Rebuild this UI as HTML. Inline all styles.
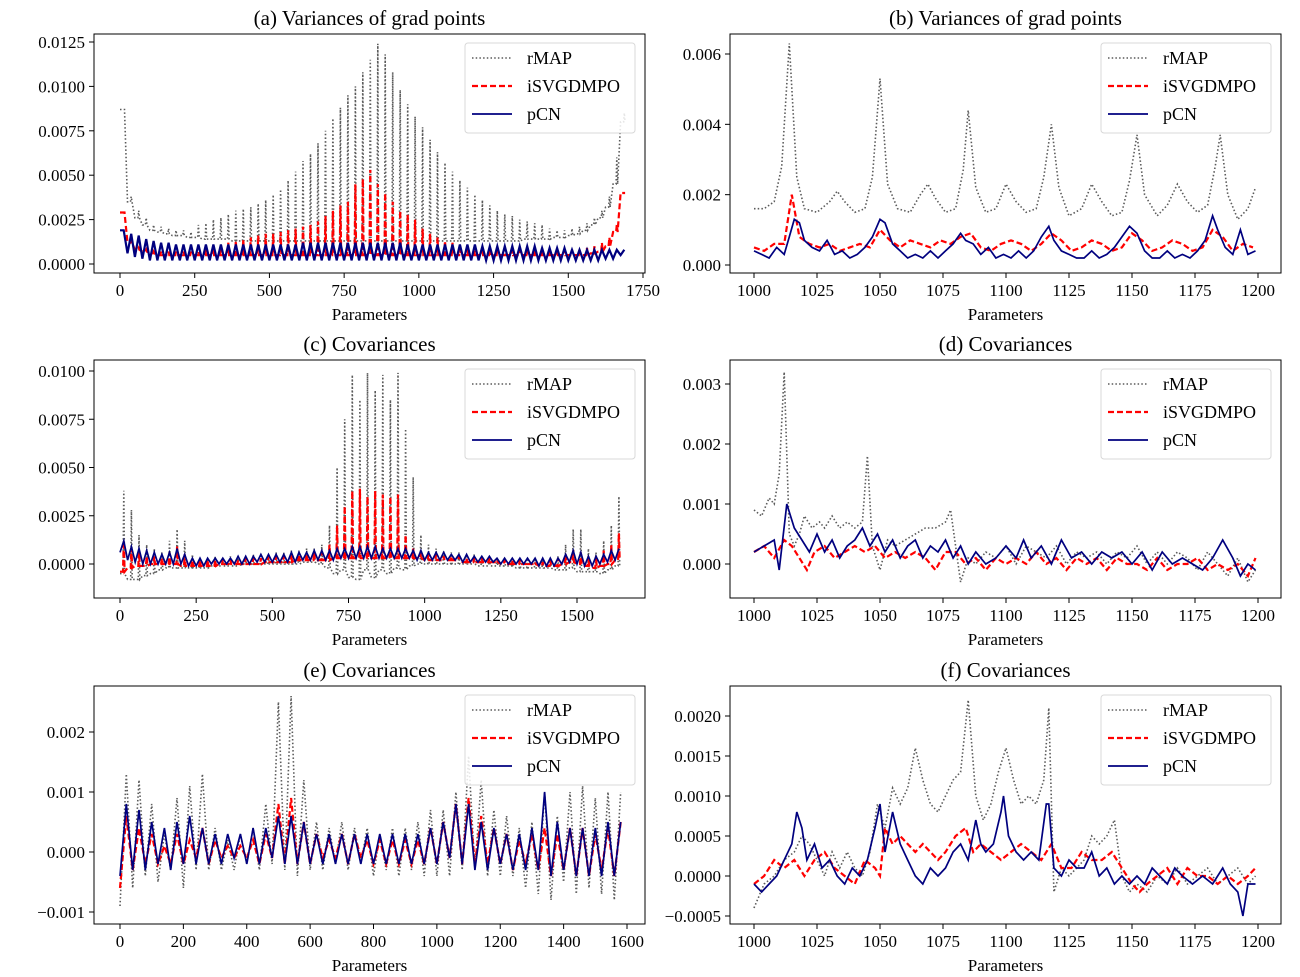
<!DOCTYPE html>
<html><head><meta charset="utf-8"><style>
html,body{margin:0;padding:0;background:#fff;}
svg{display:block;font-family:"Liberation Serif","DejaVu Serif",serif;}
</style></head><body>
<svg id="chart" width="1300" height="977" viewBox="0 0 1300 977" xmlns="http://www.w3.org/2000/svg"></svg>
<script>
// ---------- Data ----------
const aStep = 25;
const aRmapLo = [.0087,.0035,.0026,.0022,.0019,.0018,.0017,.0016,.0016,.0015,
 .0015,.0014,.0014,.0014,.0014,.0013,.0013,.0013,.0013,.0013,
 .0013,.0013,.0013,.0013,.0013,.0013,.0013,.0013,.0013,.0013,
 .0013,.0013,.0013,.0013,.0013,.0013,.0013,.0013,.0013,.0013,
 .0013,.0013,.0013,.0013,.0013,.0013,.0013,.0013,.0013,.0013,
 .0013,.0013,.0013,.0013,.0014,.0014,.0014,.0014,.0015,.0015,
 .0016,.0017,.0019,.0022,.0026,.0032,.0045,.0080];
const aRmapHi = [.0087,.0038,.0030,.0026,.0022,.0021,.0020,.0019,.0019,.0018,
 .0022,.0023,.0025,.0026,.0028,.0030,.0031,.0032,.0034,.0036,
 .0039,.0042,.0047,.0052,.0058,.0062,.0068,.0075,.0082,.0088,
 .0095,.0100,.0108,.0115,.0124,.0118,.0108,.0098,.0090,.0083,
 .0077,.0070,.0063,.0057,.0052,.0047,.0043,.0039,.0036,.0033,
 .0030,.0028,.0027,.0025,.0024,.0023,.0022,.0020,.0019,.0019,
 .0020,.0021,.0023,.0026,.0030,.0038,.0060,.0085];
const aRedLo = [.0029,.0012,.0008,.0007,.0006,.0005,.0005,.0005,.0005,.0005,
 .0005,.0005,.0005,.0005,.0005,.0005,.0005,.0005,.0005,.0005,
 .0005,.0005,.0005,.0005,.0005,.0005,.0005,.0005,.0005,.0005,
 .0005,.0005,.0005,.0005,.0005,.0005,.0005,.0005,.0005,.0005,
 .0005,.0005,.0005,.0005,.0005,.0005,.0005,.0005,.0005,.0005,
 .0005,.0005,.0005,.0005,.0005,.0005,.0005,.0005,.0005,.0005,
 .0005,.0005,.0005,.0006,.0007,.0010,.0018,.0040];
const aRedHi = [.0029,.0013,.0009,.0008,.0007,.0007,.0007,.0007,.0007,.0007,
 .0007,.0008,.0009,.0010,.0012,.0013,.0014,.0015,.0016,.0017,
 .0017,.0018,.0019,.0020,.0021,.0022,.0024,.0027,.0030,.0033,
 .0035,.0045,.0048,.0053,.0045,.0040,.0035,.0030,.0028,.0025,
 .0020,.0017,.0015,.0013,.0012,.0011,.0010,.0010,.0009,.0009,
 .0009,.0009,.0008,.0008,.0008,.0008,.0008,.0008,.0008,.0008,
 .0008,.0008,.0009,.0010,.0012,.0015,.0022,.0040];
const aPcnLo = [.0019,.0006,.0004,.0003,.0002,.0002,.0002,.0002,.0002,.0002,
 .0002,.0002,.0002,.0002,.0002,.0002,.0002,.0002,.0002,.0002,
 .0002,.0002,.0002,.0002,.0002,.0002,.0002,.0002,.0002,.0002,
 .0002,.0002,.0002,.0002,.0002,.0002,.0002,.0002,.0002,.0002,
 .0002,.0002,.0002,.0002,.0002,.0002,.0002,.0002,.0002,.0002,
 .0002,.0002,.0002,.0002,.0002,.0002,.0002,.0002,.0002,.0002,
 .0002,.0002,.0002,.0002,.0002,.0003,.0003,.0005];
const aPcnHi = [.0019,.0017,.0016,.0014,.0013,.0012,.0012,.0011,.0011,.0011,
 .0011,.0011,.0011,.0011,.0011,.0011,.0011,.0011,.0011,.0011,
 .0011,.0011,.0011,.0011,.0012,.0012,.0012,.0012,.0012,.0012,
 .0012,.0012,.0012,.0012,.0012,.0012,.0012,.0012,.0011,.0011,
 .0011,.0011,.0011,.0011,.0011,.0011,.0011,.0011,.0010,.0010,
 .0010,.0010,.0010,.0010,.0010,.0010,.0009,.0009,.0009,.0009,
 .0008,.0008,.0008,.0008,.0008,.0008,.0008,.0008];

const bRmapX = [1000,1004,1008,1011,1014,1017,1020,1025,1030,1033,1036,1040,1044,1047,1050,1053,1057,1062,1066,1069,1072,1076,1080,1083,1085,1088,1092,1096,1100,1104,1108,1112,1115,1118,1121,1125,1130,1134,1138,1142,1146,1149,1152,1155,1160,1164,1168,1172,1176,1180,1183,1185,1188,1192,1196,1199];
const bRmapY = [.0016,.0016,.0018,.0028,.0063,.0025,.0016,.0015,.0018,.0021,.0018,.0015,.0016,.0025,.0053,.0023,.0016,.0015,.0020,.0023,.0019,.0015,.0016,.0027,.0044,.0022,.0015,.0016,.0023,.0018,.0015,.0016,.0025,.0040,.0022,.0014,.0016,.0023,.0018,.0014,.0015,.0024,.0037,.0020,.0014,.0017,.0023,.0018,.0015,.0017,.0028,.0037,.0020,.0013,.0016,.0022];
const bRedX = [1000,1004,1008,1012,1015,1018,1022,1026,1030,1034,1038,1042,1046,1050,1054,1058,1062,1066,1070,1074,1078,1082,1086,1090,1094,1098,1102,1106,1110,1114,1118,1122,1126,1130,1134,1138,1142,1146,1150,1154,1158,1162,1166,1170,1174,1178,1182,1186,1190,1194,1198];
const bRedY = [.0005,.0004,.0006,.0006,.0020,.0008,.0006,.0005,.0006,.0004,.0005,.0006,.0005,.0010,.0007,.0005,.0007,.0006,.0005,.0007,.0006,.0008,.0009,.0005,.0004,.0006,.0007,.0006,.0004,.0006,.0009,.0007,.0004,.0005,.0007,.0006,.0004,.0005,.0009,.0007,.0004,.0005,.0007,.0006,.0004,.0005,.0010,.0008,.0004,.0006,.0005];
const bPcnX = [1000,1003,1006,1009,1012,1014,1016,1018,1020,1023,1026,1029,1032,1035,1038,1041,1044,1047,1050,1052,1055,1058,1061,1064,1067,1070,1073,1076,1079,1082,1084,1087,1090,1093,1096,1099,1102,1105,1108,1111,1114,1117,1119,1122,1125,1128,1131,1134,1137,1140,1143,1146,1149,1152,1155,1158,1161,1164,1167,1170,1173,1176,1179,1182,1184,1187,1190,1193,1196,1199];
const bPcnY = [.0004,.0003,.0002,.0005,.0003,.0008,.0013,.0012,.0007,.0005,.0004,.0007,.0003,.0004,.0002,.0003,.0005,.0008,.0013,.0012,.0006,.0004,.0002,.0003,.0002,.0004,.0002,.0004,.0006,.0009,.0007,.0006,.0003,.0005,.0002,.0003,.0002,.0004,.0002,.0004,.0008,.0011,.0007,.0004,.0003,.0002,.0002,.0004,.0002,.0003,.0005,.0008,.0011,.0009,.0004,.0002,.0002,.0004,.0002,.0003,.0002,.0004,.0007,.0014,.0010,.0005,.0003,.0010,.0003,.0004];

const cStep = 25;
const cRmapHi = [.0038,.0028,.0015,.0010,.0008,.0006,.0012,.0018,.0012,.0005,
 .0003,.0003,.0004,.0003,.0004,.0004,.0004,.0005,.0005,.0005,
 .0006,.0006,.0007,.0007,.0008,.0008,.0010,.0020,.0050,.0075,
 .0098,.0085,.0099,.0090,.0098,.0085,.0099,.0070,.0045,.0015,
 .0010,.0008,.0007,.0006,.0006,.0005,.0005,.0004,.0004,.0003,
 .0003,.0003,.0003,.0002,.0002,.0002,.0003,.0004,.0010,.0018,
 .0018,.0008,.0006,.0012,.0020,.0035];
const cRmapLo = [-.0005,-.0008,-.0008,-.0006,-.0005,-.0003,-.0002,-.0002,-.0002,-.0002,
 -.0002,-.0002,-.0001,-.0001,-.0001,-.0001,0,0,0,0,
 0,0,0,0,.0001,.0001,0,-.0002,-.0005,-.0003,
 -.0007,-.0008,-.0003,-.0007,-.0003,-.0005,-.0002,-.0003,-.0001,0,
 0,0,0,0,0,0,0,-.0001,-.0001,-.0001,
 -.0001,-.0001,-.0002,-.0002,-.0002,-.0002,-.0002,-.0003,-.0003,-.0002,
 -.0004,-.0004,-.0004,-.0005,-.0003,-.0001];
const cRedHi = [.0012,.0008,.0006,.0004,.0004,.0003,.0006,.0009,.0005,.0002,
 .0002,.0002,.0002,.0002,.0002,.0002,.0003,.0003,.0003,.0004,
 .0004,.0004,.0005,.0005,.0005,.0006,.0006,.0010,.0020,.0030,
 .0038,.0039,.0035,.0038,.0036,.0035,.0036,.0015,.0008,.0006,
 .0005,.0005,.0004,.0004,.0004,.0003,.0003,.0003,.0003,.0002,
 .0002,.0002,.0002,.0001,.0001,.0001,.0002,.0003,.0005,.0007,
 .0006,.0004,.0004,.0007,.0010,.0016];
const cRedLo = [-.0004,-.0002,-.0001,-.0001,0,0,0,0,-.0001,-.0001,
 -.0001,-.0001,-.0001,0,0,0,0,0,0,.0001,
 .0001,.0001,.0001,.0002,.0002,.0002,.0002,.0002,.0003,.0003,
 .0003,.0003,.0003,.0003,.0003,.0003,.0003,.0003,.0003,.0003,
 .0002,.0002,.0002,.0002,.0002,.0001,.0001,.0001,.0001,.0001,
 0,0,0,0,0,-.0001,-.0001,-.0001,0,.0001,
 0,-.0001,-.0002,-.0001,0,.0002];
const cPcnHi = [.0012,.0009,.0008,.0007,.0006,.0005,.0006,.0008,.0005,.0003,
 .0003,.0003,.0003,.0003,.0003,.0004,.0004,.0004,.0005,.0005,
 .0005,.0005,.0006,.0006,.0006,.0007,.0007,.0007,.0008,.0008,
 .0009,.0009,.0009,.0009,.0008,.0008,.0008,.0008,.0007,.0007,
 .0006,.0006,.0006,.0005,.0005,.0005,.0004,.0004,.0004,.0003,
 .0003,.0003,.0003,.0003,.0003,.0003,.0003,.0003,.0005,.0007,
 .0006,.0004,.0004,.0005,.0007,.0008];
const cPcnLo = [.0006,.0002,.0001,0,0,0,0,0,0,-.0001,
 -.0001,-.0001,0,0,0,0,0,0,.0001,.0001,
 .0001,.0001,.0001,.0001,.0002,.0002,.0002,.0002,.0002,.0003,
 .0003,.0003,.0003,.0003,.0003,.0003,.0003,.0003,.0003,.0002,
 .0002,.0002,.0002,.0002,.0002,.0001,.0001,.0001,.0001,.0001,
 0,0,0,0,0,-.0001,-.0001,-.0001,0,.0001,
 0,-.0001,-.0001,0,.0001,.0002];

const dRmapX = [1000,1003,1006,1008,1010,1012,1014,1016,1018,1020,1023,1026,1028,1031,1034,1037,1040,1043,1045,1047,1050,1053,1056,1060,1064,1068,1072,1076,1078,1080,1082,1085,1088,1092,1096,1100,1104,1108,1112,1116,1120,1124,1128,1132,1136,1140,1144,1148,1152,1156,1160,1164,1168,1172,1176,1180,1184,1188,1192,1196,1199];
const dRmapY = [.0009,.0008,.0011,.0010,.0015,.0032,.0005,.0003,.0005,.0008,.0006,.0007,.0006,.0008,.0006,.0007,.0006,.0007,.0018,.0003,-.0001,.0004,.0003,.0004,.0005,.0006,.0006,.0007,.0009,.0003,-.0003,.0001,.0000,.0002,.0001,.0003,.0000,.0003,.0002,.0001,.0003,.0000,.0002,.0001,.0002,.0000,.0002,.0001,.0003,.0000,.0002,.0000,.0002,.0001,-.0001,.0002,.0000,-.0002,.0001,-.0003,-.0001];
const dRedX = [1000,1004,1008,1012,1015,1018,1021,1024,1028,1032,1036,1040,1044,1048,1052,1056,1060,1064,1068,1072,1076,1080,1084,1088,1092,1096,1100,1104,1108,1112,1116,1120,1124,1128,1132,1136,1140,1144,1148,1152,1156,1160,1164,1168,1172,1176,1180,1184,1188,1192,1196,1199];
const dRedY = [.0002,.0003,.0001,.0004,.0003,.0001,-.0001,.0002,.0003,.0001,.0002,.0003,.0002,.0003,.0001,.0002,.0001,.0002,.0001,-.0001,.0002,.0002,.0000,.0001,-.0001,.0001,.0000,.0001,.0000,.0002,.0000,.0001,-.0001,.0001,.0000,.0001,-.0001,.0001,.0000,.0000,-.0001,.0001,-.0001,.0000,.0000,.0001,-.0001,.0000,-.0001,.0000,-.0002,.0001];
const dPcnX = [1000,1004,1008,1010,1013,1016,1019,1022,1025,1028,1031,1034,1037,1040,1043,1046,1049,1052,1055,1058,1061,1064,1067,1070,1073,1076,1079,1082,1085,1088,1092,1096,1100,1104,1107,1110,1114,1118,1122,1126,1130,1134,1138,1142,1146,1150,1154,1158,1162,1166,1170,1174,1178,1182,1186,1190,1193,1196,1199];
const dPcnY = [.0002,.0003,.0004,-.0001,.0010,.0006,.0004,.0002,.0005,.0002,.0004,.0001,.0003,.0004,.0006,.0003,.0005,.0002,.0004,.0001,.0003,.0004,.0001,.0003,.0002,.0004,.0001,.0003,.0000,.0002,.0000,.0001,.0003,.0001,.0004,.0001,.0003,.0000,.0004,.0001,.0002,.0000,.0002,.0001,.0002,.0000,.0002,-.0001,.0002,.0000,.0001,.0000,-.0001,.0001,.0004,.0001,-.0002,.0000,-.0001];

const eStep = 40;
const eRmapHi = [.0013,.0012,.0008,.0003,.0009,.0011,.0013,.0004,.0002,.0003,.0004,.0008,.0025,.0026,.0012,.0005,.0004,.0005,.0004,.0004,.0003,.0004,.0004,.0005,.0007,.0007,.0010,.0016,.0012,.0007,.0006,.0004,.0005,.0010,.0006,.0010,.0011,.0009,.0010,.0010];
const eRmapLo = [-.0009,-.0006,-.0004,-.0005,-.0003,-.0006,-.0003,-.0003,-.0003,-.0003,-.0002,-.0003,-.0002,-.0003,-.0004,-.0003,-.0003,-.0002,-.0003,-.0002,-.0004,-.0003,-.0004,-.0003,-.0004,-.0004,-.0004,-.0003,-.0003,-.0004,-.0004,-.0004,-.0006,-.0007,-.0008,-.0005,-.0007,-.0006,-.0007,-.0008];
const eRedHi = [.0006,.0004,.0003,.0001,.0003,.0002,.0004,.0002,.0001,.0001,.0002,.0003,.0008,.0009,.0005,.0003,.0002,.0003,.0003,.0002,.0002,.0002,.0002,.0002,.0004,.0005,.0008,.0009,.0006,.0004,.0003,.0002,.0003,.0004,.0003,.0004,.0004,.0003,.0004,.0005];
const eRedLo = [-.0006,-.0003,-.0002,-.0002,-.0002,-.0002,-.0001,-.0002,-.0001,-.0001,-.0001,-.0002,-.0001,-.0002,-.0002,-.0002,-.0001,-.0001,-.0002,-.0001,-.0002,-.0002,-.0002,-.0002,-.0002,-.0002,-.0001,-.0002,-.0002,-.0002,-.0002,-.0003,-.0002,-.0003,-.0004,-.0003,-.0004,-.0004,-.0003,-.0004];
const ePcnHi = [.0008,.0007,.0005,.0004,.0005,.0006,.0004,.0003,.0003,.0003,.0004,.0004,.0006,.0006,.0005,.0003,.0003,.0003,.0003,.0003,.0003,.0003,.0003,.0003,.0004,.0005,.0008,.0008,.0005,.0004,.0003,.0003,.0004,.0010,.0005,.0004,.0004,.0004,.0005,.0005];
const ePcnLo = [-.0004,-.0003,-.0003,-.0002,-.0003,-.0002,-.0002,-.0002,-.0002,-.0001,-.0002,-.0002,-.0001,-.0002,-.0002,-.0002,-.0002,-.0002,-.0002,-.0002,-.0002,-.0002,-.0002,-.0002,-.0002,-.0002,-.0001,-.0002,-.0003,-.0003,-.0002,-.0003,-.0003,-.0003,-.0004,-.0003,-.0004,-.0004,-.0004,-.0004];

const fRmapX = [1000,1004,1008,1012,1016,1019,1022,1025,1028,1031,1034,1037,1040,1043,1046,1049,1052,1055,1058,1061,1064,1067,1070,1073,1076,1079,1082,1085,1088,1091,1094,1097,1100,1103,1106,1109,1112,1115,1117,1119,1122,1125,1128,1131,1134,1137,1140,1143,1146,1149,1152,1156,1160,1164,1168,1172,1176,1180,1184,1188,1192,1196,1199];
const fRmapY = [-.0004,-.0001,.0000,.0002,.0003,.0005,.0004,.0002,.0000,.0003,.0001,.0003,.0001,.0000,.0003,.0009,.0006,.0011,.0009,.0011,.0016,.0012,.0009,.0008,.0010,.0012,.0013,.0022,.0010,.0007,.0009,.0013,.0016,.0012,.0009,.0010,.0009,.0012,.0021,-.0002,.0001,.0000,.0001,.0002,.0005,.0004,.0005,.0007,.0000,-.0002,-.0001,-.0002,.0000,-.0001,.0001,-.0001,.0000,.0001,-.0001,.0000,.0001,-.0001,.0000];
const fRedX = [1000,1004,1008,1012,1016,1020,1024,1028,1032,1036,1040,1044,1048,1050,1052,1055,1058,1061,1064,1067,1070,1073,1076,1080,1084,1087,1090,1094,1098,1102,1106,1110,1114,1118,1122,1126,1130,1134,1138,1142,1146,1150,1153,1156,1160,1164,1168,1172,1176,1180,1184,1188,1192,1196,1199];
const fRedY = [-.0001,.0000,.0002,.0001,.0002,.0000,.0002,.0003,.0001,.0000,-.0001,.0002,.0001,.0000,.0006,.0004,.0005,.0004,.0003,.0004,.0003,.0002,.0003,.0005,.0006,.0003,.0004,.0003,.0002,.0003,.0004,.0003,.0002,.0004,.0001,.0001,.0003,.0002,.0002,.0003,.0001,-.0001,-.0002,-.0001,.0000,.0001,-.0001,.0001,.0000,.0000,-.0001,.0000,-.0001,.0000,.0001];
const fPcnX = [1000,1003,1006,1009,1012,1015,1017,1019,1021,1024,1027,1030,1033,1036,1039,1042,1045,1048,1050,1052,1055,1058,1061,1064,1067,1070,1073,1076,1079,1082,1085,1088,1090,1092,1095,1098,1099,1101,1104,1107,1110,1113,1116,1117,1119,1122,1125,1128,1131,1134,1137,1140,1143,1146,1149,1152,1155,1158,1161,1164,1167,1170,1174,1178,1182,1186,1189,1192,1194,1196,1199];
const fPcnY = [-.0001,-.0002,-.0001,.0000,.0002,.0004,.0008,.0006,.0002,.0004,.0001,.0002,.0000,-.0001,.0001,.0000,.0002,.0006,.0009,.0003,.0008,.0004,.0002,.0000,-.0001,.0001,.0000,.0001,.0003,.0004,.0002,.0007,.0004,.0003,.0004,.0008,.0010,.0005,.0003,.0002,.0003,.0002,.0009,.0009,.0001,.0000,.0002,.0001,.0001,.0003,.0000,.0001,-.0001,.0000,-.0001,.0000,-.0001,.0001,.0000,-.0001,.0001,.0000,-.0001,.0000,-.0001,.0001,-.0001,-.0002,-.0005,-.0001,-.0001];

const aXTicks = [0,250,500,750,1000,1250,1500,1750];
const aYTicks = [0,.0025,.005,.0075,.01,.0125];
const bXTicks = [1000,1025,1050,1075,1100,1125,1150,1175,1200];
const bYTicks = [0,.002,.004,.006];
const cXTicks = [0,250,500,750,1000,1250,1500];
const cYTicks = [0,.0025,.005,.0075,.01];
const dYTicks = [0,.001,.002,.003];
const eXTicks = [0,200,400,600,800,1000,1200,1400,1600];
const eYTicks = [-.001,0,.001,.002];
const fYTicks = [-.0005,0,.0005,.001,.0015,.002];

// ---------- Rendering ----------
const NS = "http://www.w3.org/2000/svg";
const svg = document.getElementById("chart");
function mk(tag, attrs, parent) {
  const e = document.createElementNS(NS, tag);
  for (const k in attrs) e.setAttribute(k, attrs[k]);
  (parent || svg).appendChild(e);
  return e;
}
function lin(d0, d1, r0, r1) { return v => r0 + (v - d0) / (d1 - d0) * (r1 - r0); }
function fmt(v, dec) { const s = Math.abs(v).toFixed(dec); return (v < -1e-12 ? "\u2212" : "") + s; }

const STY = {
  rmap: {stroke:"#5a5a5a", "stroke-width":1.6, "stroke-dasharray":"1.5,2.2", fill:"none"},
  red:  {stroke:"#ff0000", "stroke-width":2.2, "stroke-dasharray":"6,3", fill:"none"},
  pcn:  {stroke:"#00007f", "stroke-width":1.7, fill:"none"}
};
let clipId = 0;

function panel(p) {
  const g = mk("g", {});
  
  
  const sx = lin(p.xd[0], p.xd[1], p.xr[0], p.xr[1]);
  const sy = lin(p.yd[0], p.yd[1], p.yr[0], p.yr[1]);
  const frame = mk("rect", {x:p.l, y:p.t, width:p.r-p.l, height:p.b-p.t, fill:"#fff", stroke:"#000", "stroke-width":1}, g);
  
  
  const title = mk("text", {x:(p.l+p.r)/2, y:p.t-9, "text-anchor":"middle", "font-size":21}, g);
  title.textContent = p.title;
  
  
  const xl = mk("text", {x:(p.l+p.r)/2, y:p.b+47, "text-anchor":"middle", "font-size":17}, g);
  xl.textContent = "Parameters";
  
  
  p.xt.forEach(v => {
    const x = sx(v);
    mk("line", {x1:x, x2:x, y1:p.b, y2:p.b+5, stroke:"#000"}, g);
    const t = mk("text", {x:x, y:p.b+23, "text-anchor":"middle", "font-size":17}, g);
    t.textContent = String(v);
    
    
  });
  p.yt.forEach(v => {
    const y = sy(v);
    mk("line", {x1:p.l-5, x2:p.l, y1:y, y2:y, stroke:"#000"}, g);
    const t = mk("text", {x:p.l-9, y:y+6, "text-anchor":"end", "font-size":17}, g);
    t.textContent = fmt(v, p.dec);
    
    
  });
  const cid = "clip" + (clipId++);
  const cp = mk("clipPath", {id:cid}, g);
  mk("rect", {x:p.l, y:p.t, width:p.r-p.l, height:p.b-p.t}, cp);
  const sg = mk("g", {"clip-path":"url(#"+cid+")"}, g);
  p.series.forEach(s => {
    let pts = [];
    const P = (x, y) => pts.push(sx(x).toFixed(1) + "," + sy(y).toFixed(1));
    if (s.lo) {
      for (let i = 0; i < s.lo.length; i++) {
        const x0 = p.x0 + i * p.step;
        if (s.spike) {
          P(x0, s.lo[i]);
          P(x0 + p.step*0.4, s.lo[i]);
          P(x0 + p.step*0.5, s.hi[i]);
          P(x0 + p.step*0.6, s.lo[i]);
        } else {
          P(x0, s.lo[i]);
          P(x0 + p.step/2, s.hi[i]);
        }
      }
    } else {
      for (let i = 0; i < s.x.length; i++) P(s.x[i], s.y[i]);
    }
    const st = Object.assign({points: pts.join(" ")}, STY[s.k]);
    if (s.w) st["stroke-width"] = s.w;
    const pl = mk("polyline", st, sg);
    
    
  });
  const lx = p.r - 180, ly = p.t + 9;
  const lg = mk("g", {}, g);
  
  
  mk("rect", {x:lx, y:ly, width:170, height:90, rx:3, fill:"#fff", "fill-opacity":0.85, stroke:"#d8d8d8"}, lg);
  [["rmap","rMAP"],["red","iSVGDMPO"],["pcn","pCN"]].forEach((e, i) => {
    const yy = ly + 15 + i*28;
    const ent = mk("g", {}, lg);
    
    
    mk("line", Object.assign({x1:lx+7, x2:lx+47, y1:yy, y2:yy}, STY[e[0]]), ent);
    const t = mk("text", {x:lx+62, y:yy+6, "font-size":18}, ent);
    t.textContent = e[1];
  });
}

panel({name:"panel-a", title:"(a) Variances of grad points", l:94,t:34,r:645,b:273,
  xd:[0,1750], xr:[120,643], yd:[0,.0125], yr:[264,42], xt:aXTicks, yt:aYTicks, dec:4,
  x0:0, step:aStep,
  series:[{k:"rmap",n:"rmap-line",lo:aRmapLo,hi:aRmapHi,spike:true},{k:"red",n:"isvgdmpo-line",lo:aRedLo,hi:aRedHi,spike:true},{k:"pcn",n:"pcn-line",lo:aPcnLo,hi:aPcnHi,w:2.2}]});
panel({name:"panel-b", title:"(b) Variances of grad points", l:730,t:34,r:1281,b:273,
  xd:[1000,1200], xr:[754,1258], yd:[0,.006], yr:[265,54], xt:bXTicks, yt:bYTicks, dec:3,
  series:[{k:"rmap",n:"rmap-line",x:bRmapX,y:bRmapY},{k:"red",n:"isvgdmpo-line",x:bRedX,y:bRedY},{k:"pcn",n:"pcn-line",x:bPcnX,y:bPcnY}]});
panel({name:"panel-c", title:"(c) Covariances", l:94,t:360,r:645,b:598,
  xd:[0,1500], xr:[120,577], yd:[0,.01], yr:[564,371], xt:cXTicks, yt:cYTicks, dec:4,
  x0:0, step:cStep,
  series:[{k:"rmap",n:"rmap-line",lo:cRmapLo,hi:cRmapHi,spike:true},{k:"red",n:"isvgdmpo-line",lo:cRedLo,hi:cRedHi,spike:true},{k:"pcn",n:"pcn-line",lo:cPcnLo,hi:cPcnHi}]});
panel({name:"panel-d", title:"(d) Covariances", l:730,t:360,r:1281,b:598,
  xd:[1000,1200], xr:[754,1258], yd:[0,.003], yr:[564,384], xt:bXTicks, yt:dYTicks, dec:3,
  series:[{k:"rmap",n:"rmap-line",x:dRmapX,y:dRmapY},{k:"red",n:"isvgdmpo-line",x:dRedX,y:dRedY},{k:"pcn",n:"pcn-line",x:dPcnX,y:dPcnY}]});
panel({name:"panel-e", title:"(e) Covariances", l:94,t:686,r:645,b:924,
  xd:[0,1600], xr:[120,627], yd:[0,.002], yr:[852,732], xt:eXTicks, yt:eYTicks, dec:3,
  x0:0, step:eStep,
  series:[{k:"rmap",n:"rmap-line",lo:eRmapLo,hi:eRmapHi},{k:"red",n:"isvgdmpo-line",lo:eRedLo,hi:eRedHi},{k:"pcn",n:"pcn-line",lo:ePcnLo,hi:ePcnHi}]});
panel({name:"panel-f", title:"(f) Covariances", l:730,t:686,r:1281,b:924,
  xd:[1000,1200], xr:[754,1258], yd:[0,.002], yr:[876,716], xt:bXTicks, yt:fYTicks, dec:4,
  series:[{k:"rmap",n:"rmap-line",x:fRmapX,y:fRmapY},{k:"red",n:"isvgdmpo-line",x:fRedX,y:fRedY},{k:"pcn",n:"pcn-line",x:fPcnX,y:fPcnY}]});
</script>
</body></html>
